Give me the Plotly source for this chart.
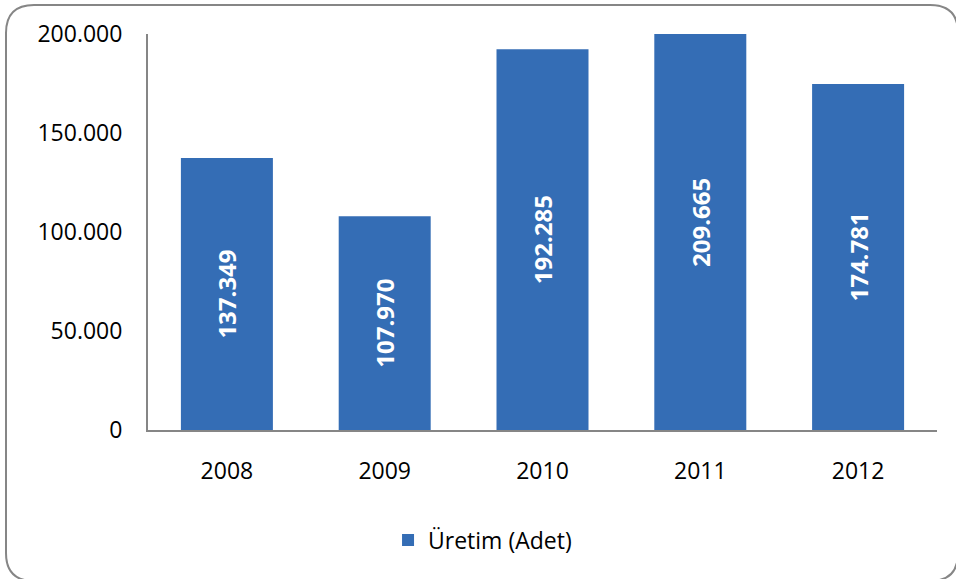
import plotly.graph_objects as go

years = ["2008", "2009", "2010", "2011", "2012"]
production = [137349, 107970, 192285, 209665, 174781]
y_ticks = [0, 50000, 100000, 150000, 200000]
y_tick_labels = ["0", "50.000", "100.000", "150.000", "200.000"]
series_name = "Üretim (Adet)"

def fmt(v):
    return f"{v:,}".replace(",", ".")

W, H = 956, 579
L, R, T, B = 148, 19, 34, 149
pw, ph = W - L - R, H - T - B

fig = go.Figure()
fig.add_trace(go.Bar(
    x=years, y=production, name=series_name,
    marker=dict(color="#346db5", line=dict(width=0)),
    width=0.583,
    text=[fmt(v) for v in production],
    textposition="inside", insidetextanchor="middle", textangle=-90,
    textfont=dict(family="Open Sans", size=24, color="white", weight="bold"),
    cliponaxis=True,
))

# rounded frame in paper coords (page pixels converted)
def px(x): return (x - L) / pw
def py(y): return (H - B - y) / ph
x0, x1, y0, y1, r = 6, 958, 5, 581, 28
path = (f"M{px(x0+r)},{py(y0)} L{px(x1-r)},{py(y0)} Q{px(x1)},{py(y0)} {px(x1)},{py(y0+r)} "
        f"L{px(x1)},{py(y1-r)} Q{px(x1)},{py(y1)} {px(x1-r)},{py(y1)} "
        f"L{px(x0+r)},{py(y1)} Q{px(x0)},{py(y1)} {px(x0)},{py(y1-r)} "
        f"L{px(x0)},{py(y0+r)} Q{px(x0)},{py(y0)} {px(x0+r)},{py(y0)} Z")
fig.add_shape(type="path", path=path, xref="paper", yref="paper",
              line=dict(color="#868686", width=2), fillcolor="rgba(0,0,0,0)", layer="below")

fig.update_layout(
    width=W, height=H,
    margin=dict(l=L, r=R, t=T, b=B),
    paper_bgcolor="white", plot_bgcolor="white",
    font=dict(family="Open Sans", size=23, color="black"),
    showlegend=True,
    legend=dict(orientation="h", x=0.424, xanchor="center", y=-0.278, yanchor="middle",
                font=dict(size=23), itemwidth=30),
    xaxis=dict(showline=True, linecolor="#868686", linewidth=2, ticks="",
               showgrid=False, ticklabelstandoff=19, fixedrange=True),
    yaxis=dict(range=[0, 200000], tickvals=y_ticks, ticktext=y_tick_labels,
               showline=True, linecolor="#868686", linewidth=2, ticks="",
               showgrid=False, zeroline=False, ticklabelstandoff=19, fixedrange=True),
)

fig.write_html("out.html", config={"displayModeBar": False},
               post_script="document.body.style.margin='0';document.body.style.overflow='hidden';")
